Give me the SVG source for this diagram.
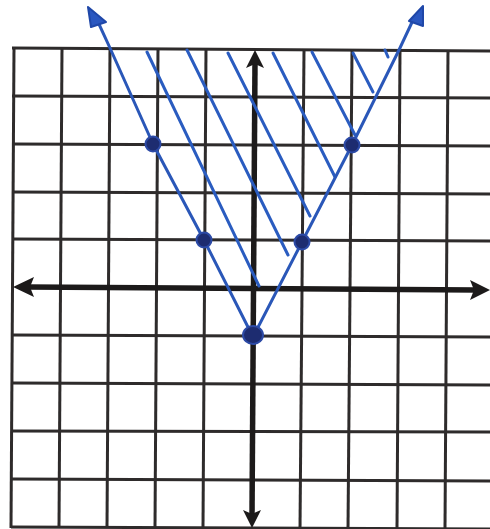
<svg xmlns="http://www.w3.org/2000/svg" width="490" height="529" viewBox="0 0 490 529">
<style>
.grid{stroke:#2e2b2b;stroke-width:3;fill:none}
.axis{stroke:#1c1a1a;stroke-width:5.5;fill:none}
.ahead{fill:#1c1a1a}
.graph{stroke:#2a57b8;stroke-width:3;fill:none;stroke-linecap:round;stroke-linejoin:round}
.hatch{stroke:#2a5cc0;stroke-width:3;fill:none;stroke-linecap:round}
.pt{fill:#1d2c70;stroke:#2c4aa6;stroke-width:2}
.gh{fill:#2a57c0;stroke:#1f47a8;stroke-width:2;stroke-linejoin:round}
</style>
<rect x="0" y="0" width="490" height="529" fill="#ffffff"/>
<g id="grid">
<line class="grid" x1="14" y1="48" x2="11" y2="528"/>
<line class="grid" x1="62" y1="48" x2="59" y2="528"/>
<line class="grid" x1="110" y1="48" x2="107" y2="528"/>
<line class="grid" x1="158" y1="48" x2="155" y2="528"/>
<line class="grid" x1="206" y1="48" x2="203" y2="528"/>
<line class="grid" x1="304" y1="50" x2="300" y2="529"/>
<line class="grid" x1="352" y1="50" x2="348" y2="529"/>
<line class="grid" x1="400" y1="50" x2="397" y2="529"/>
<line class="grid" x1="448" y1="50" x2="445" y2="529"/>
<line class="grid" x1="12" y1="48" x2="490" y2="51"/>
<line class="grid" x1="12" y1="96" x2="490" y2="98"/>
<line class="grid" x1="12" y1="144" x2="490" y2="146"/>
<line class="grid" x1="12" y1="192" x2="490" y2="194"/>
<line class="grid" x1="12" y1="239" x2="490" y2="241"/>
<line class="grid" x1="12" y1="335" x2="490" y2="337"/>
<line class="grid" x1="12" y1="383" x2="490" y2="385"/>
<line class="grid" x1="12" y1="431" x2="490" y2="432"/>
<line class="grid" x1="12" y1="479" x2="490" y2="481"/>
<line class="grid" x1="11" y1="527" x2="490" y2="529"/>
</g>
<g id="axes">
<line class="axis" x1="28" y1="287" x2="476" y2="290"/>
<polygon class="ahead" points="13,287 34,277 30,287 34,297"/>
<polygon class="ahead" points="490,290 470,280 474,290 470,300"/>
<line class="axis" x1="255" y1="62" x2="252" y2="516"/>
<polygon class="ahead" points="255,50 246,68 255,64 264,68"/>
<polygon class="ahead" points="252,528 243,510 252,514 261,510"/>
</g>
<g id="shading">
<line class="hatch" x1="147" y1="52" x2="259" y2="286"/>
<line class="hatch" x1="187" y1="50" x2="288" y2="255"/>
<line class="hatch" x1="228" y1="53" x2="310" y2="216"/>
<line class="hatch" x1="273" y1="53" x2="335" y2="177"/>
<line class="hatch" x1="312" y1="52" x2="355" y2="135"/>
<line class="hatch" x1="353" y1="53" x2="373" y2="92"/>
<line class="hatch" x1="385" y1="50" x2="388" y2="57"/>
</g>
<g id="graph">
<polyline class="graph" points="252,335 204,240 153,144 110,48 98,22"/>
<polyline class="graph" points="254,335 302,242 352,145 399,50 414,18"/>
<polygon class="gh" points="88,7 91,27 106,22"/>
<polygon class="gh" points="423,6 409,21 423,26"/>
</g>
<g id="points">
<circle class="pt" cx="153" cy="144" r="7.5"/>
<circle class="pt" cx="204" cy="240" r="7.5"/>
<circle class="pt" cx="302" cy="242" r="7.5"/>
<circle class="pt" cx="352" cy="145" r="7.5"/>
<ellipse class="pt" cx="253" cy="335" rx="10" ry="9"/>
</g>
</svg>
